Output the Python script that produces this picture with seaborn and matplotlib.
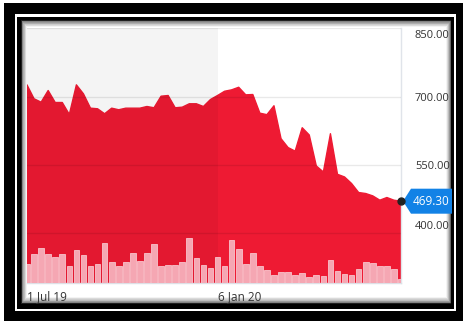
import numpy as np
import matplotlib
matplotlib.use("Agg")
import matplotlib.pyplot as plt
import matplotlib.transforms as mtransforms
from matplotlib.patches import Rectangle, Polygon
import seaborn as sns

# ---- data (weekly, starting 1 Jul 2019) ----
weeks = list(range(54))
price = [725.7, 695.0, 687.5, 713.2, 686.8, 686.8, 660.5, 725.7, 705.9, 674.3,
         673.0, 662.0, 674.3, 670.8, 674.3, 674.3, 674.3, 678.0, 675.2, 700.7,
         702.2, 675.2, 676.5, 684.0, 684.0, 678.0, 693.4, 702.2, 711.6, 714.7,
         720.4, 703.7, 704.4, 663.3, 660.0, 679.6, 607.1, 587.5, 579.6, 631.2,
         615.2, 546.9, 533.7, 618.0, 528.6, 522.7, 508.2, 488.4, 486.2, 481.0,
         471.5, 477.4, 471.5, 469.3]
volume = [19, 29, 35, 29, 26, 29, 17, 33, 28, 17,
          19, 40, 21, 17, 21, 30, 22, 30, 39, 17,
          18, 18, 21, 45, 25, 18, 15, 26, 17, 43,
          34, 19, 30, 17, 13, 8, 11, 11, 8, 10,
          6, 8, 7, 23, 12, 9, 8, 14, 21, 20,
          17, 17, 14, 4]
xtick_pos = [0, 27]
xtick_labels = ["1 Jul 19", "6 Jan 20"]
ytick_vals = [400, 550, 700, 850]

RED = "#ee1a33"
PINK = "#f5a7b3"
BLUE = "#1282e6"
TXT = "#333333"

sns.set_theme(style="white")
plt.rcParams["font.family"] = ["Open Sans", "DejaVu Sans"]

W, H = 464, 321
fig = plt.figure(figsize=(W / 100, H / 100), dpi=100)
fig.patch.set_facecolor("white")


def px_rect(x0, y0, x1, y1, color, z):
    fig.add_artist(Rectangle((x0, H - y1), x1 - x0, y1 - y0,
                             transform=mtransforms.IdentityTransform(),
                             facecolor=color, edgecolor="none", zorder=z))


# decorative frame
px_rect(4, 3, 464, 321, "black", -20)
px_rect(15, 14, 456, 311, "white", -19)
px_rect(17, 17, 454, 309, "black", -18)
n = 10
for k in range(n + 1):
    t = k / n
    g = 0.12 + 0.88 * np.sqrt(t)
    px_rect(21 + 6 * t, 20 + 7 * t, 451 - 5 * t, 304 - 7 * t, (g, g, g), -17 + k * 0.01)

# main axes + twin for volume
ax = fig.add_axes([27 / W, (H - 283) / H, 374 / W, 255 / H])
ax2 = ax.twinx()
ax.set_facecolor("white")
ax.set_axisbelow(False)
ax.yaxis.grid(True, color="black", alpha=0.085, lw=1)
ax.xaxis.grid(False)

sns.lineplot(x=weeks, y=price, ax=ax, color=RED, lw=1)
ax.fill_between(weeks, price, 0, color=RED, lw=0, zorder=2)
ax.axvspan(xtick_pos[0], xtick_pos[1], color="black", alpha=0.045, lw=0, zorder=2.2)

ax.set_xlim(weeks[0], weeks[-1])
ax.set_ylim(289, 851)
ax.yaxis.tick_right()
ax.set_yticks(ytick_vals)
ax.set_yticklabels([f"{v:.2f}" for v in ytick_vals])
ax.tick_params(axis="y", length=0, pad=10, labelsize=8, labelcolor=TXT)
ax.set_xticks(xtick_pos)
ax.set_xticklabels(xtick_labels)
ax.tick_params(axis="x", length=0, pad=5, labelsize=8.5, labelcolor=TXT)
for lbl in ax.get_xticklabels():
    lbl.set_ha("left")
ax.set_xlabel("")
ax.set_ylabel("")
for s in ["left", "top"]:
    ax.spines[s].set_visible(False)
ax.spines["right"].set_color("#e0e4ea")
ax.spines["bottom"].set_color("#dde0e6")
ax.spines["right"].set_linewidth(1)
ax.spines["bottom"].set_linewidth(1)

# label nudges (pixels, positive = up) as seen in the original layout
label_shift = {850: -6, 400: 8}
for tick in ax.yaxis.get_major_ticks():
    dy = label_shift.get(int(round(tick.get_loc())), 0)
    if dy:
        tick.label2.set_transform(tick.label2.get_transform() +
                                  mtransforms.ScaledTranslation(0, dy / 100, fig.dpi_scale_trans))

# volume bars
sns.barplot(x=weeks, y=volume, ax=ax2, native_scale=True, color=PINK,
            saturation=1, width=0.8, errorbar=None, edgecolor="#f9c4cc", linewidth=0.6)
ax2.set_ylim(0, 255)
ax2.set_xlim(weeks[0], weeks[-1])
ax2.axis("off")

# last price marker and tag
trans = fig.dpi_scale_trans + mtransforms.ScaledTranslation(weeks[-1], price[-1], ax.transData)
tag = Polygon([(0.02, 0), (0.10, 0.125), (0.51, 0.125), (0.51, -0.125), (0.10, -0.125)],
              closed=True, transform=trans, facecolor=BLUE, edgecolor="none",
              clip_on=False, zorder=11)
ax.add_patch(tag)
ax.annotate(f"{price[-1]:.2f}", xy=(weeks[-1], price[-1]), xytext=(12, 0),
            textcoords="offset pixels", ha="left", va="center", color="white",
            fontsize=8.5, zorder=12, annotation_clip=False)
ax.plot([weeks[-1]], [price[-1]], "o", color="#222222", ms=5, clip_on=False, zorder=13)

fig.savefig("out.png", dpi=100)
